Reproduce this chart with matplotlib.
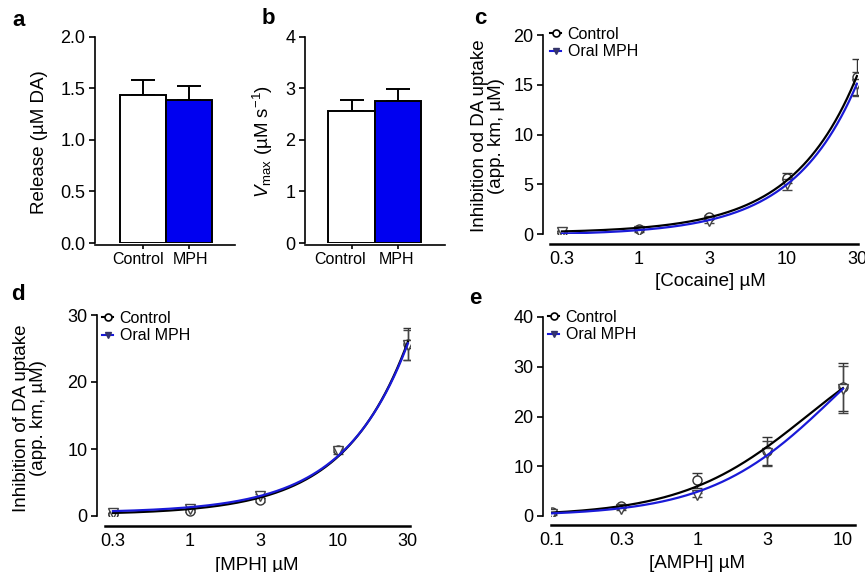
import numpy as np
import matplotlib
matplotlib.use("Agg")
import matplotlib.pyplot as plt
from matplotlib.lines import Line2D

plt.rcParams['font.family'] = ['Liberation Sans', 'DejaVu Sans']
plt.rcParams['mathtext.fontset'] = 'custom'
plt.rcParams['mathtext.rm'] = 'Liberation Sans'
plt.rcParams['mathtext.it'] = 'Liberation Sans:italic'

# ---------------- data ----------------
bar_groups = ["Control", "MPH"]
release_mean = [1.44, 1.39]
release_err = [0.14, 0.13]
vmax_mean = [2.56, 2.76]
vmax_err = [0.22, 0.23]

coc_x = [0.3, 1, 3, 10, 30]
coc_ctrl = [0.2, 0.5, 1.7, 5.6, 15.8]
coc_ctrl_err = [0.1, 0.12, 0.2, 0.5, 1.8]
coc_mph = [0.2, 0.3, 1.3, 5.0, 15.1]
coc_mph_err = [0.1, 0.1, 0.2, 0.6, 1.2]

mph_x = [0.3, 1, 3, 10, 30]
mph_ctrl = [0.3, 0.8, 2.4, 9.9, 25.7]
mph_ctrl_err = [0.1, 0.2, 0.3, 0.4, 2.4]
mph_mph = [0.4, 1.1, 3.0, 9.7, 25.5]
mph_mph_err = [0.1, 0.2, 0.3, 0.4, 2.2]

amph_x = [0.1, 0.3, 1, 3, 10]
amph_ctrl = [0.8, 2.0, 7.2, 13.0, 25.9]
amph_ctrl_err = [0.2, 0.3, 1.5, 2.8, 4.8]
amph_mph = [0.5, 1.5, 4.2, 12.6, 25.5]
amph_mph_err = [0.2, 0.3, 0.4, 2.5, 4.7]

BLUE_BAR = '#0000f0'
BLUE_LINE = '#1a1ad8'
TICK_FS = 13
LABEL_FS = 13.5
LEG_FS = 11.5

W, H = 865, 572
fig = plt.figure(figsize=(W / 100, H / 100), dpi=100)


def rect(x0, x1, ytop, ybot):
    return [x0 / W, 1 - ybot / H, (x1 - x0) / W, (ybot - ytop) / H]


def px(x, y):
    return x / W, 1 - y / H


def style(ax, left_out=0, bottom_out=0, bottom_lw=1.2):
    ax.spines['top'].set_visible(False)
    ax.spines['right'].set_visible(False)
    ax.spines['left'].set_linewidth(1.2)
    ax.spines['bottom'].set_linewidth(bottom_lw)
    ax.spines['left'].set_position(('outward', left_out * 0.72))
    ax.spines['bottom'].set_position(('outward', bottom_out * 0.72))
    ax.tick_params(axis='both', labelsize=TICK_FS, width=1.2, length=4, direction='out')


# ---------------- bar panels ----------------
def bar_panel(r, xlim, means, errs, ylim, yticks, fmt, label_x):
    ax = fig.add_axes(r)
    xs = np.arange(len(means))
    ax.bar(xs, means, width=1.0, color=['white', BLUE_BAR], edgecolor='black',
           linewidth=1.4, zorder=2)
    ax.errorbar(xs, means, yerr=[np.zeros(len(errs)), errs], fmt='none',
                ecolor='black', elinewidth=1.4, capsize=8.5, capthick=1.4, zorder=1)
    ax.set_xlim(*xlim)
    ax.set_ylim(*ylim)
    ax.set_yticks(yticks)
    ax.set_yticklabels([fmt.format(v) for v in yticks])
    ax.set_xticks(xs)
    ax.set_xticklabels([])
    style(ax, 0, 2)
    ax.tick_params(axis='x', length=3)
    ax.tick_params(axis='y', pad=3)
    for lx, name in zip(label_x, bar_groups):
        ax.text(lx, -0.045, name, transform=ax.get_xaxis_transform(), ha='center',
                va='top', fontsize=11.5)
    return ax


bar_panel(rect(95, 235, 37, 243), (-1.043, 2.0), release_mean, release_err,
          (0, 2.0), [0, 0.5, 1.0, 1.5, 2.0], '{:.1f}', [-0.11, 1.04])
bar_panel(rect(305, 445, 37, 243), (-1.01, 2.03), vmax_mean, vmax_err,
          (0, 4), [0, 1, 2, 3, 4], '{:.0f}', [-0.25, 0.98])


# ---------------- dose-response panels ----------------
def linear_fit(x, y):
    return np.polyfit(x, y, 1)


def hyper_fit(x, y):
    x = np.asarray(x, float)
    y = np.asarray(y, float)
    best = None
    for K in np.logspace(-1, 3, 4000):
        f = x / (K + x)
        V = np.sum(y * f) / np.sum(f * f)
        sse = np.sum((y - V * f) ** 2)
        if best is None or sse < best[0]:
            best = (sse, K, V)
    return best[1], best[2]


def curve_panel(r, xlim, ylim, yticks, xticks, xtick_labels, x, ctrl, ctrl_err,
                mph, mph_err, kind, left_out, bottom_out, leg_anchor):
    ax = fig.add_axes(r)
    ax.set_xscale('log')
    xs = np.logspace(np.log10(min(x)), np.log10(max(x)), 300)
    curves = []
    for y in (ctrl, mph):
        if kind == 'lin':
            p = linear_fit(x, y)
            curves.append(np.polyval(p, xs))
        else:
            K, V = hyper_fit(x, y)
            curves.append(V * xs / (K + xs))
    ax.errorbar(x, ctrl, yerr=ctrl_err, fmt='o', ms=6.5, mfc='white', mec='#333333',
                mew=1.0, ecolor='#333333', elinewidth=1.0, capsize=3.5, capthick=1.0,
                zorder=2)
    ax.errorbar(x, mph, yerr=mph_err, fmt='v', ms=6.5, mfc='white', mec='#444444',
                mew=1.0, ecolor='#444444', elinewidth=1.0, capsize=3.5, capthick=1.0,
                zorder=2)
    ax.plot(xs, curves[0], color='black', lw=1.6, zorder=3)
    ax.plot(xs, curves[1], color=BLUE_LINE, lw=1.6, zorder=4)
    ax.set_xlim(*xlim)
    ax.set_ylim(*ylim)
    ax.set_yticks(yticks)
    ax.set_xticks(xticks)
    ax.set_xticklabels(xtick_labels)
    ax.minorticks_off()
    style(ax, left_out, bottom_out, bottom_lw=1.8)
    ax.tick_params(axis='x', length=0, pad=5)
    ax.tick_params(axis='y', pad=3)
    handles = [
        Line2D([], [], color='black', lw=1.5, marker='o', ms=5, mfc='white',
               mec='black', mew=1.2),
        Line2D([], [], color=BLUE_LINE, lw=1.5, marker='v', ms=5, mfc='#333377',
               mec='#333366', mew=1.0),
    ]
    ax.legend(handles, ['Control', 'Oral MPH'], loc='upper left',
              bbox_to_anchor=leg_anchor, frameon=False, fontsize=LEG_FS,
              handlelength=0.7, handletextpad=0.4, borderpad=0, borderaxespad=0,
              labelspacing=0.15)
    return ax


curve_panel(rect(550, 858, 35, 234), (0.249, 30.5), (0, 20), [0, 5, 10, 15, 20],
            coc_x, ['0.3', '1', '3', '10', '30'], coc_x, coc_ctrl, coc_ctrl_err,
            coc_mph, coc_mph_err, 'lin', 7, 10, (0.0, 1.04))
curve_panel(rect(105, 410, 315, 516), (0.265, 31), (0, 30), [0, 10, 20, 30],
            mph_x, ['0.3', '1', '3', '10', '30'], mph_x, mph_ctrl, mph_ctrl_err,
            mph_mph, mph_mph_err, 'lin', 8, 10, (-0.01, 1.02))
curve_panel(rect(551, 855, 317, 516), (0.0984, 12.1), (0, 40), [0, 10, 20, 30, 40],
            amph_x, ['0.1', '0.3', '1', '3', '10'], amph_x, amph_ctrl, amph_ctrl_err,
            amph_mph, amph_mph_err, 'hyp', 8, 9, (-0.01, 1.035))

# ---------------- labels ----------------
fig.text(*px(40, 142), 'Release (µM DA)', rotation=90, ha='center', va='center',
         fontsize=LABEL_FS)
fig.text(*px(263, 141), r'$\mathit{V}_{\mathrm{max}}$ (µM s$^{-1}$)', rotation=90,
         ha='center', va='center', fontsize=LABEL_FS)
fig.text(*px(488, 136), 'Inhibition od DA uptake\n(app. km, µM)', rotation=90,
         ha='center', va='center', fontsize=LABEL_FS, multialignment='center',
         linespacing=1.05)
fig.text(*px(30, 418), 'Inhibition of DA uptake\n(app. km, µM)', rotation=90,
         ha='center', va='center', fontsize=LABEL_FS, multialignment='center',
         linespacing=1.05)
fig.text(*px(710, 282), '[Cocaine] µM', ha='center', va='center', fontsize=LABEL_FS)
fig.text(*px(257, 565), '[MPH] µM', ha='center', va='center', fontsize=LABEL_FS)
fig.text(*px(697, 564), '[AMPH] µM', ha='center', va='center', fontsize=LABEL_FS)

for letter, (x, y) in zip('abcde', [(19, 21), (268, 19), (480, 18), (18, 294), (475, 298)]):
    fig.text(*px(x, y), letter, ha='center', va='center', fontsize=16, fontweight='bold')

fig.savefig('out.png', dpi=100)
